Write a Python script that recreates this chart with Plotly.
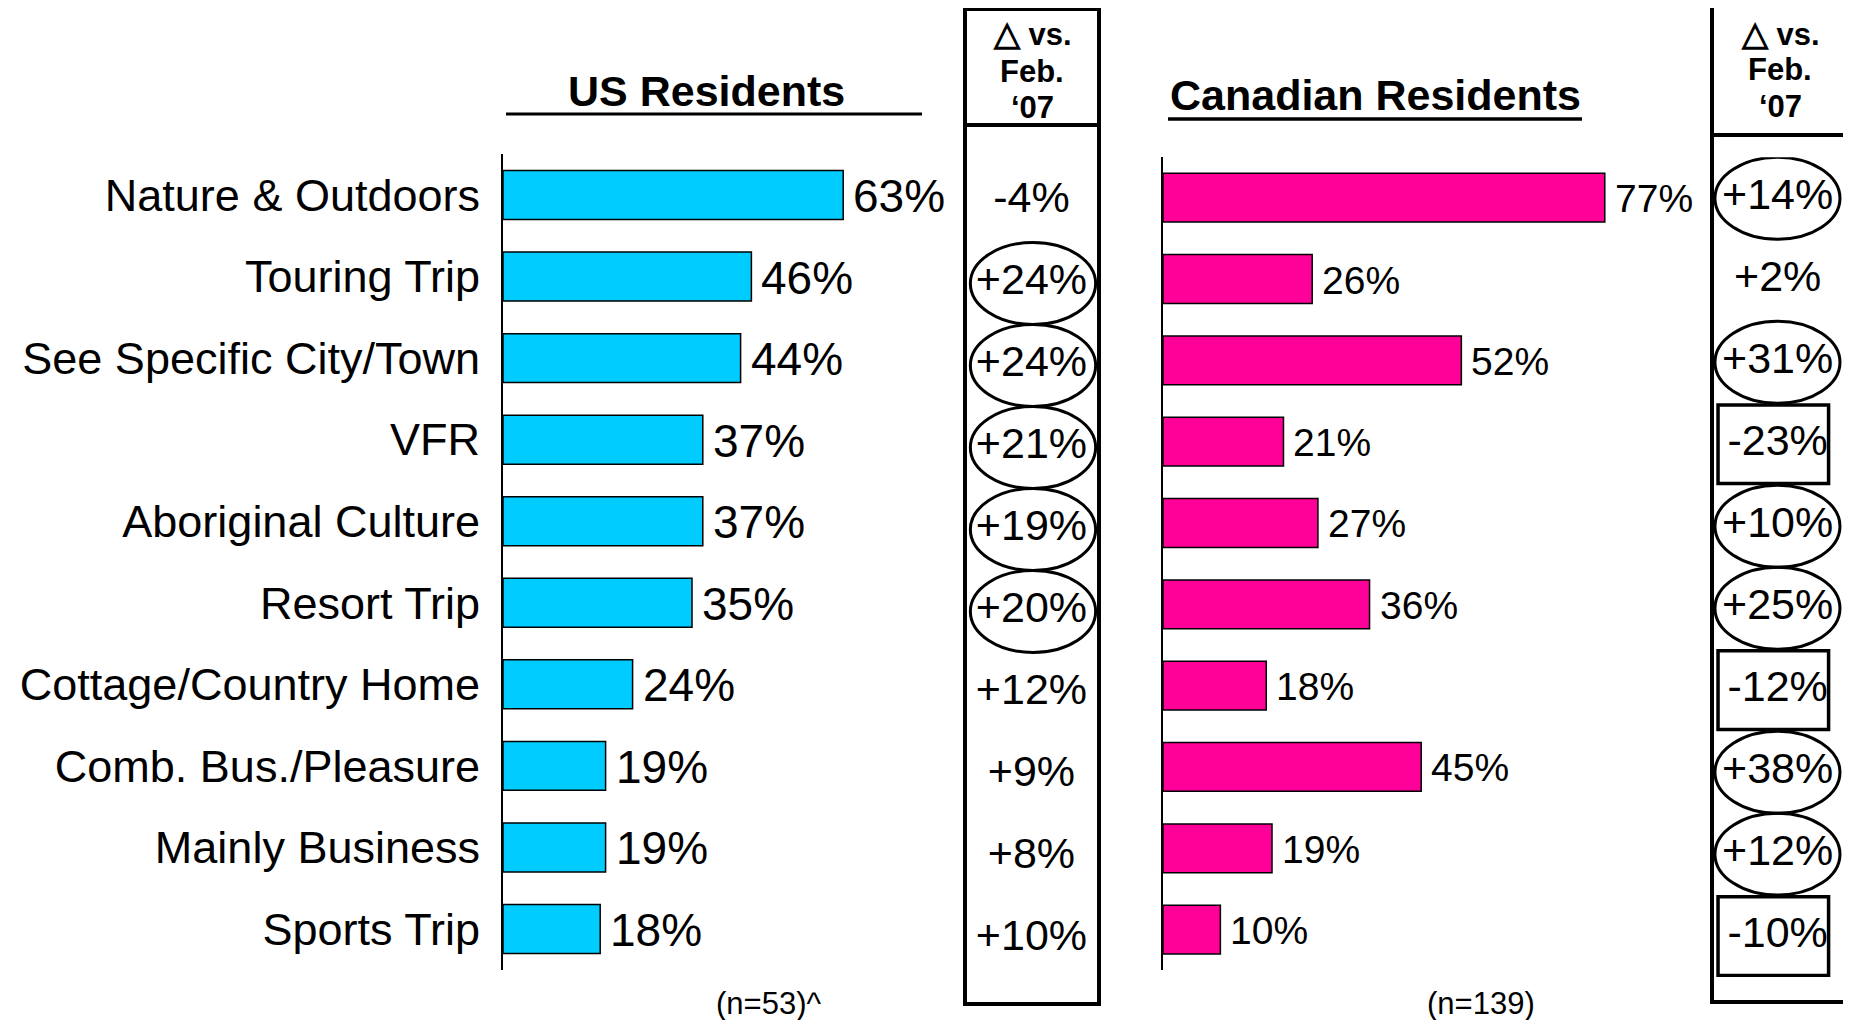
import plotly.graph_objects as go

W, H = 1851, 1020
OFF = 8  # default page margin of the browser body

categories = ["Nature & Outdoors", "Touring Trip", "See Specific City/Town", "VFR",
              "Aboriginal Culture", "Resort Trip", "Cottage/Country Home",
              "Comb. Bus./Pleasure", "Mainly Business", "Sports Trip"]
us_values = [63, 46, 44, 37, 37, 35, 24, 19, 19, 18]
ca_values = [77, 26, 52, 21, 27, 36, 18, 45, 19, 10]
us_delta = ["-4%", "+24%", "+24%", "+21%", "+19%", "+20%", "+12%", "+9%", "+8%", "+10%"]
ca_delta = ["+14%", "+2%", "+31%", "-23%", "+10%", "+25%", "-12%", "+38%", "+12%", "-10%"]
# marker around each delta: "ellipse", "rect" or ""
us_mark = ["", "ellipse", "ellipse", "ellipse", "ellipse", "ellipse", "", "", "", ""]
ca_mark = ["ellipse", "", "ellipse", "rect", "ellipse", "ellipse", "rect", "ellipse", "ellipse", "rect"]
us_title = "US Residents"
ca_title = "Canadian Residents"
us_n = "(n=53)^"
ca_n = "(n=139)"
header_lines = ["<span style='font-size:34px'>\u25b3</span> vs.", "Feb.", "\u201807"]

FONT = "Liberation Sans, Arial, sans-serif"
US_COLOR = "#00CCFF"
CA_COLOR = "#FF0099"

FW, FH = W - OFF, H - OFF


def px(x):
    return (x - OFF) / FW


def py(y):
    return 1 - (y - OFF) / FH


fig = go.Figure()

fig.add_trace(go.Bar(x=us_values, y=categories, orientation="h", xaxis="x", yaxis="y",
                     marker=dict(color=US_COLOR, line=dict(color="black", width=1.5)),
                     width=0.6, hoverinfo="skip"))
fig.add_trace(go.Bar(x=ca_values, y=categories, orientation="h", xaxis="x2", yaxis="y2",
                     marker=dict(color=CA_COLOR, line=dict(color="black", width=1.5)),
                     width=0.6, hoverinfo="skip"))
fig.add_trace(go.Scatter(x=[0.496] * len(categories), y=categories, mode="text", text=us_delta,
                         xaxis="x3", yaxis="y3", textposition="middle center",
                         textfont=dict(family=FONT, size=43, color="black"), hoverinfo="skip"))
fig.add_trace(go.Scatter(x=[0.49] * len(categories), y=categories, mode="text", text=ca_delta,
                         xaxis="x4", yaxis="y4", textposition="middle center",
                         textfont=dict(family=FONT, size=43, color="black"), hoverinfo="skip"))

hidden = dict(showgrid=False, zeroline=False, showticklabels=False, showline=False, ticks="")

layout = dict(
    width=FW, height=FH, margin=dict(l=0, r=0, t=0, b=0, pad=0), autosize=False,
    paper_bgcolor="white", plot_bgcolor="rgba(0,0,0,0)", showlegend=False,
    font=dict(family=FONT, color="black"),
    xaxis=dict(domain=[px(503), px(503 + 378)], range=[0, 70], anchor="y", **hidden),
    yaxis=dict(domain=[py(969.8), py(154.2)], range=[9.5, -0.5], anchor="x", type="category",
               showgrid=False, zeroline=False, showline=True, linecolor="black", linewidth=2,
               ticks="", ticklabelstandoff=12, tickfont=dict(family=FONT, size=45, color="black")),
    xaxis2=dict(domain=[px(1163), px(1163 + 459)], range=[0, 80], anchor="y2", **hidden),
    yaxis2=dict(domain=[py(970.3), py(157)], range=[9.5, -0.5], anchor="x2", type="category",
                showgrid=False, zeroline=False, showline=True, linecolor="black", linewidth=2,
                ticks="", showticklabels=False),
    xaxis3=dict(domain=[px(965), px(1099)], range=[0, 1], anchor="y3", **hidden),
    yaxis3=dict(domain=[py(980.5), py(160.5)], range=[9.5, -0.5], anchor="x3", type="category", **hidden),
    xaxis4=dict(domain=[px(1712), px(1846)], range=[0, 1], anchor="y4", **hidden),
    yaxis4=dict(domain=[py(977.1), py(157.3)], range=[9.5, -0.5], anchor="x4", type="category", **hidden),
)

shapes = []
annotations = []

# value labels
for c, v in zip(categories, us_values):
    annotations.append(dict(x=v, y=c, xref="x", yref="y", text=f"{v}%", showarrow=False,
                            xanchor="left", yanchor="middle", xshift=8, yshift=-1,
                            font=dict(family=FONT, size=46, color="black")))
for c, v in zip(categories, ca_values):
    annotations.append(dict(x=v, y=c, xref="x2", yref="y2", text=f"{v}%", showarrow=False,
                            xanchor="left", yanchor="middle", xshift=8, yshift=-1,
                            font=dict(family=FONT, size=39, color="black")))

# delta markers
for i, m in enumerate(us_mark):
    if m == "ellipse":
        shapes.append(dict(type="circle", xref="x3", yref="y3", x0=0.04, x1=0.975,
                           y0=i - 0.5, y1=i + 0.5, line=dict(color="black", width=3)))
for i, m in enumerate(ca_mark):
    if m == "ellipse":
        shapes.append(dict(type="circle", xref="x4", yref="y4", x0=0.022, x1=0.955,
                           y0=i - 0.5, y1=i + 0.5, line=dict(color="black", width=3)))
    elif m == "rect":
        shapes.append(dict(type="rect", xref="x4", yref="y4", x0=0.045, x1=0.87,
                           y0=i - 0.48, y1=i + 0.48, line=dict(color="black", width=3.5)))

# delta boxes
shapes.append(dict(type="rect", xref="paper", yref="paper", x0=px(965), x1=px(1099),
                   y0=py(1004), y1=py(9), line=dict(color="black", width=4)))
shapes.append(dict(type="line", xref="paper", yref="paper", x0=px(965), x1=px(1099),
                   y0=py(125), y1=py(125), line=dict(color="black", width=4)))
shapes.append(dict(type="rect", xref="paper", yref="paper", x0=px(1712), x1=px(1846),
                   y0=py(1002), y1=py(5), line=dict(color="black", width=4)))
shapes.append(dict(type="line", xref="paper", yref="paper", x0=px(1712), x1=px(1846),
                   y0=py(135), y1=py(135), line=dict(color="black", width=4)))

# headers of delta boxes
for txt, yy in zip(header_lines, [33, 72, 108]):
    annotations.append(dict(x=px(1032), y=py(yy), xref="paper", yref="paper", text=f"<b>{txt}</b>",
                            showarrow=False, xanchor="center", yanchor="middle",
                            font=dict(family=FONT, size=31, color="black")))
for txt, yy in zip(header_lines, [33, 70, 107]):
    annotations.append(dict(x=px(1780), y=py(yy), xref="paper", yref="paper", text=f"<b>{txt}</b>",
                            showarrow=False, xanchor="center", yanchor="middle",
                            font=dict(family=FONT, size=31, color="black")))

# titles with underline
annotations.append(dict(x=px(706), y=py(91), xref="paper", yref="paper", text=f"<b>{us_title}</b>",
                        showarrow=False, xanchor="center", yanchor="middle",
                        font=dict(family=FONT, size=43, color="black")))
shapes.append(dict(type="line", xref="paper", yref="paper", x0=px(506), x1=px(922),
                   y0=py(114), y1=py(114), line=dict(color="black", width=3)))
annotations.append(dict(x=px(1375), y=py(94.5), xref="paper", yref="paper", text=f"<b>{ca_title}</b>",
                        showarrow=False, xanchor="center", yanchor="middle",
                        font=dict(family=FONT, size=43, color="black")))
shapes.append(dict(type="line", xref="paper", yref="paper", x0=px(1168), x1=px(1582),
                   y0=py(119), y1=py(119), line=dict(color="black", width=3.5)))

# sample sizes
annotations.append(dict(x=px(768), y=py(1003.5), xref="paper", yref="paper", text=us_n,
                        showarrow=False, xanchor="center", yanchor="middle",
                        font=dict(family=FONT, size=31, color="black")))
annotations.append(dict(x=px(1481), y=py(1003.5), xref="paper", yref="paper", text=ca_n,
                        showarrow=False, xanchor="center", yanchor="middle",
                        font=dict(family=FONT, size=31, color="black")))

layout["shapes"] = shapes
layout["annotations"] = annotations
fig.update_layout(**layout)

fig.write_html("out.html")
